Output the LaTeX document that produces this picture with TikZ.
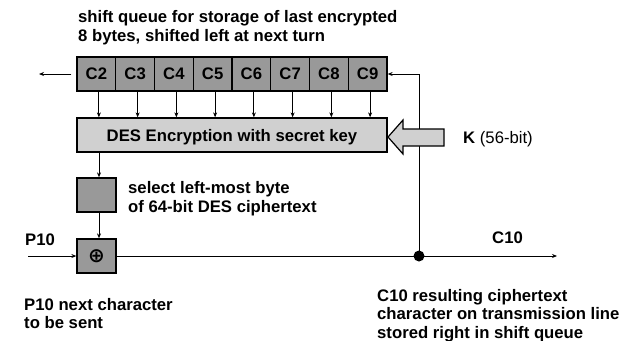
\documentclass[tikz,border=0pt]{standalone}
\usepackage{fontspec}
\setmainfont{Liberation Sans}
\newfontfamily\symfont{DejaVu Sans}
\usetikzlibrary{arrows.meta}
\definecolor{midgray}{HTML}{999999}
\definecolor{palegray}{HTML}{D0D0D0}
\newcommand\diafont{\fontsize{16.7}{19}\selectfont}
\begin{document}
\begin{tikzpicture}[x=1pt,y=-1pt,
  box/.style={draw, line width=1.3pt, inner sep=0pt},
  cell/.style={box, fill=midgray, minimum width=38.75pt, minimum height=34pt,
    font=\diafont\bfseries},
  txt/.style={anchor=base west, inner sep=0pt, font=\diafont\bfseries},
  conn/.style={line width=0.9pt},
  arr/.style={conn, -{Stealth[length=5pt,width=4pt]}}
]
\useasboundingbox (0,0) rectangle (628,340);

% caption of the shift queue
\node[txt] (t1) at (78,22) {shift queue for storage of last encrypted};
\node[txt] (t2) at (78,41.5) {8 bytes, shifted left at next turn};

% the eight byte cells of the shift queue
\foreach \i [count=\k from 0] in {2,...,9}
  \node[cell] (c\i) at ({77+38.75*(\k+0.5)},74) {C\i};

% DES block
\node[box, fill=palegray, minimum width=310pt, minimum height=34pt,
  font=\diafont\bfseries, text depth=0pt] (des) at (232,135)
  {DES Encryption with secret key};

% byte selection and XOR
\node[box, fill=midgray, minimum width=39pt, minimum height=34pt] (sel) at (96.5,195) {};
\node[box, fill=midgray, minimum width=39pt, minimum height=34pt,
  font=\symfont\bfseries\fontsize{20}{20}\selectfont] (xor) at (96.5,256) {⊕};

\node[txt] (s1) at (128,193) {select left-most byte};
\node[txt] (s2) at (128,212) {of 64-bit DES ciphertext};

% queue bytes into DES
\foreach \i in {2,...,9}
  \draw[arr] ([xshift=2.5pt]c\i.south) -- ([xshift=2.5pt]c\i.south |- des.north);

% byte shifted out at the left
\coordinate (qout) at (39,74);
\draw[arr] ([xshift=-5pt]c2.west) -- (qout);

\draw[arr] ([xshift=2.5pt]sel.north |- des.south) -- ([xshift=2.5pt]sel.north);
\draw[arr] ([xshift=2.5pt]sel.south) -- ([xshift=2.5pt]xor.north);

% plaintext in, ciphertext out
\coordinate (pin) at (28,256);
\coordinate (cout) at (557,256);
\node[circle, fill=black, inner sep=0pt, minimum size=11pt] (dot) at (419,256) {};
\draw[arr] (pin) -- (xor.west);
\draw[conn] (xor.east) -- (dot.center);
\draw[arr] (dot.center) -- (cout);

% ciphertext fed back into the queue
\draw[arr] (dot.center) |- (c9.east);

% key input arrow
\draw[line width=1.2pt, fill=palegray, line join=miter]
  (388,137) -- (403,120) -- (403,129) -- (444,129) -- (444,146)
  -- (403,146) -- (403,154) -- cycle;
\node[txt, font=\diafont] (k) at (463,143) {\textbf{K} (56-bit)};

% labels
\node[txt] (p10) at (25,245) {P10};
\node[txt] (c10) at (492,243) {C10};
\node[txt] (b1) at (24,310) {P10 next character};
\node[txt] (b2) at (24,328) {to be sent};
\node[txt] (r1) at (377,301) {C10 resulting ciphertext};
\node[txt] (r2) at (377,319.5) {character on transmission line};
\node[txt] (r3) at (377,338) {stored right in shift queue};
\end{tikzpicture}
\end{document}
